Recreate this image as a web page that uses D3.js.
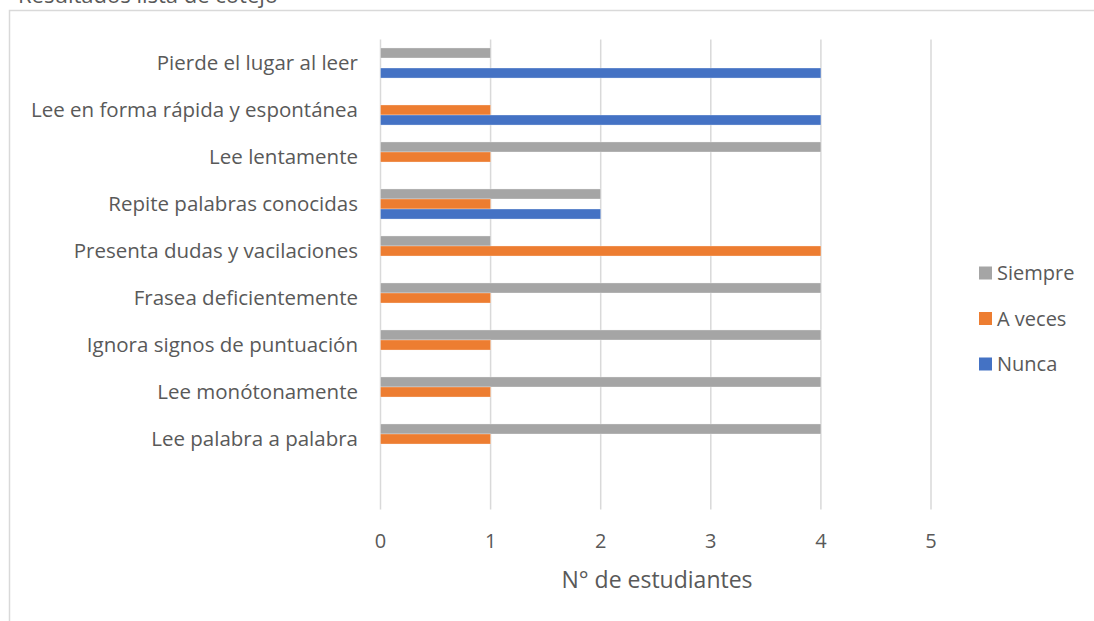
<!DOCTYPE html>
<html><head><meta charset="utf-8">
<script src="https://cdn.jsdelivr.net/npm/d3@7"></script>
<style>body{margin:0;background:#fff;}svg{display:block;}</style>
</head><body>
<svg id="c" width="1094" height="621"></svg>
<script>
const categories = ["Pierde el lugar al leer","Lee en forma rápida y espontánea","Lee lentamente","Repite palabras conocidas","Presenta dudas y vacilaciones","Frasea deficientemente","Ignora signos de puntuación","Lee monótonamente","Lee palabra a palabra",""];
const seriesNames = ["Siempre","A veces","Nunca"];
const siempre = [1,0,4,2,1,4,4,4,4,0];
const aVeces  = [0,1,1,1,4,1,1,1,1,0];
const nunca   = [4,4,0,2,0,0,0,0,0,0];
const xTicks = [0,1,2,3,4,5];
const colors = ["#A5A5A5","#ED7D31","#4472C4"];
const title = "Resultados lista de cotejo";
const xTitle = "N° de estudiantes";

const svg = d3.select("#c");
const font = "'Open Sans', sans-serif";
const txt = "#595959";

// frame
svg.append("rect").attr("x",9.5).attr("y",10.5).attr("width",1100).attr("height",620)
  .attr("fill","none").attr("stroke","#D9D9D9").attr("stroke-width",1.5);
// cropped title (cut off at top edge as in the reference)
svg.append("text").attr("x",18).attr("y",3).attr("font-family",font).attr("font-size",22)
  .attr("fill",txt).text(title);

const x = d3.scaleLinear().domain([0,5]).range([380.5,931]);
const y = d3.scaleBand().domain(categories).range([39.5,509.5]).paddingInner(0.36).paddingOuter(0.18);
const ys = d3.scaleBand().domain(seriesNames).range([0,y.bandwidth()]);

// gridlines
svg.append("g").selectAll("line").data(xTicks).join("line")
  .attr("x1",d=>x(d)).attr("x2",d=>x(d)).attr("y1",39.5).attr("y2",509.5)
  .attr("stroke","#D9D9D9").attr("stroke-width",1.5);

const vals = [siempre,aVeces,nunca];
seriesNames.forEach((s,i)=>{
  svg.append("g").selectAll("rect").data(categories.map((c,j)=>({c,v:vals[i][j]})).filter(d=>d.v>0)).join("rect")
    .attr("x",x(0)).attr("y",d=>y(d.c)+ys(s)).attr("width",d=>x(d.v)-x(0)).attr("height",ys.bandwidth())
    .attr("fill",colors[i]).attr("stroke","#fff").attr("stroke-opacity",0.4).attr("stroke-width",0.75);
});

// category labels
svg.append("g").selectAll("text").data(categories).join("text")
  .attr("x",358).attr("y",d=>y(d)+y.bandwidth()/2).attr("dy","0.35em")
  .attr("text-anchor","end").attr("font-family",font).attr("font-size",20.5).attr("fill",txt).text(d=>d);

// x tick labels
svg.append("g").selectAll("text").data(xTicks).join("text")
  .attr("x",d=>x(d)).attr("y",541).attr("dy","0.35em").attr("text-anchor","middle")
  .attr("font-family",font).attr("font-size",20).attr("fill",txt).text(d=>d);

svg.append("text").attr("x",657).attr("y",580).attr("dy","0.35em").attr("text-anchor","middle")
  .attr("font-family",font).attr("font-size",23).attr("fill",txt).text(xTitle);

// legend
const lg = svg.append("g");
seriesNames.forEach((s,i)=>{
  const yy = 273 + i*45.5;
  lg.append("rect").attr("x",979).attr("y",yy-6.5).attr("width",13).attr("height",13).attr("fill",colors[i]);
  lg.append("text").attr("x",997).attr("y",yy).attr("dy","0.35em").attr("font-family",font)
    .attr("font-size",20).attr("fill",txt).text(s);
});
</script>
</body></html>
